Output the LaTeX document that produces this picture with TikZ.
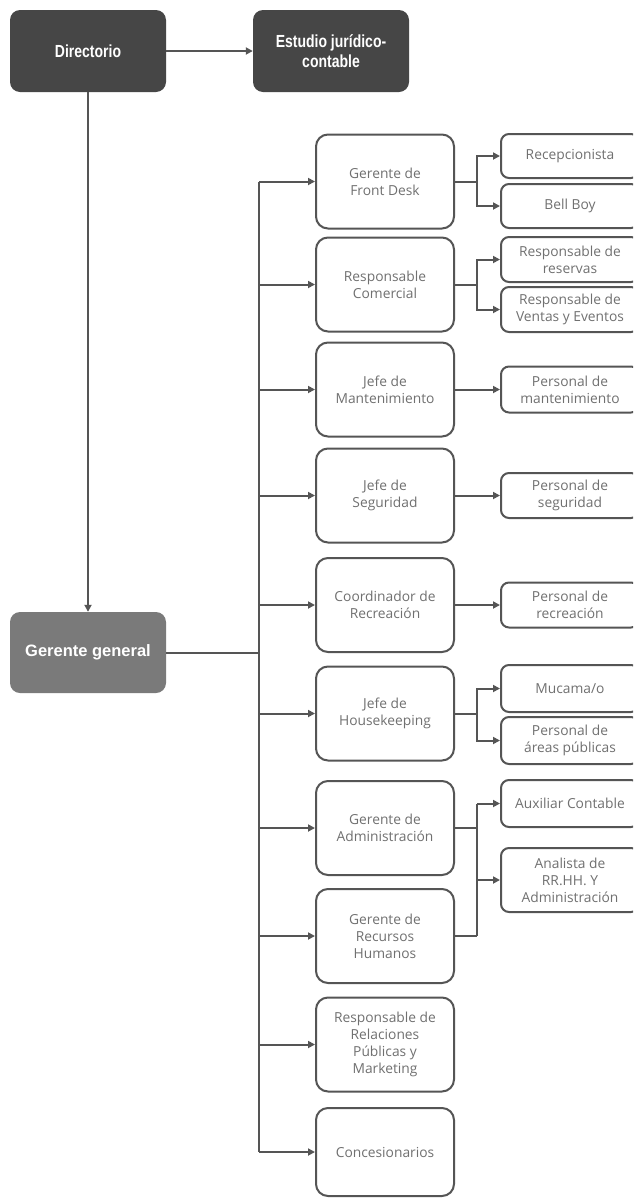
\documentclass[tikz,border=0pt]{standalone}
\usepackage{fontspec}
\setmainfont{Open Sans}
\newfontfamily\condbold{Liberation Sans}[FakeStretch=0.8]
\newfontfamily\titlefont{Liberation Sans}
\usetikzlibrary{arrows.meta}
\definecolor{darkbox}{HTML}{464646}
\definecolor{gerbox}{HTML}{7A7A7A}
\definecolor{linec}{HTML}{555555}
\definecolor{textc}{HTML}{707070}
\begin{document}
\begin{tikzpicture}[x=1pt,y=-1pt,
  topbox/.style={fill=darkbox, rounded corners=10pt, minimum width=156pt, minimum height=82pt,
    text=white, align=center, inner sep=0pt, font=\condbold\bfseries\fontsize{17.5}{20}\selectfont},
  gerbx/.style={fill=gerbox, rounded corners=10pt, minimum width=156pt, minimum height=81pt,
    text=white, align=center, inner sep=0pt, font=\titlefont\bfseries\fontsize{16.5}{20}\selectfont},
  midbx/.style={draw=linec, line width=2pt, fill=white, rounded corners=12pt, minimum width=138pt,
    minimum height=94pt, text=textc, align=center, inner sep=0pt, font=\fontsize{13.8}{17}\selectfont},
  subbx/.style={draw=linec, line width=2pt, fill=white, rounded corners=8pt, minimum width=138pt,
    text=textc, align=center, inner sep=0pt, font=\fontsize{13.8}{17}\selectfont},
  conn/.style={draw=linec, line width=2pt},
  arr/.style={conn, -{Triangle[length=7pt,width=7pt]}},
]
\useasboundingbox (0,0) rectangle (633,1200);
\clip (0,0) rectangle (633,1200);
\fill[white] (0,0) rectangle (633,1200);

% top level
\node[topbox] (dir) at (88,51) {Directorio};
\node[topbox] (est) at (331,51) {Estudio jurídico-\\contable};
\node[gerbx] (gg) at (88,652.5) {Gerente general};

% middle column
\node[midbx] (fd) at (385,181.5) {Gerente de\\Front Desk};
\node[midbx] (rc) at (385,284.5) {Responsable\\Comercial};
\node[midbx] (jm) at (385,389.5) {Jefe de\\Mantenimiento};
\node[midbx] (js) at (385,495.5) {Jefe de\\Seguridad};
\node[midbx] (cr) at (385,605) {Coordinador de\\Recreación};
\node[midbx] (jh) at (385,713.5) {Jefe de\\Housekeeping};
\node[midbx] (ga) at (385,828) {Gerente de\\Administración};
\node[midbx] (rh) at (385,936) {Gerente de\\Recursos\\Humanos};
\node[midbx] (rp) at (385,1044.5) {Responsable de\\Relaciones\\Públicas y\\Marketing};
\node[midbx, minimum height=88pt] (co) at (385,1152) {Concesionarios};

% right column
\node[subbx, minimum height=44pt] (rec) at (570,156) {Recepcionista};
\node[subbx, minimum height=44pt] (bb) at (570,206) {Bell Boy};
\node[subbx, minimum height=45pt] (res) at (570,259.5) {Responsable de\\reservas};
\node[subbx, minimum height=45pt] (ven) at (570,309.5) {Responsable de\\Ventas y Eventos};
\node[subbx, minimum height=46pt] (pm) at (570,389.5) {Personal de\\mantenimiento};
\node[subbx, minimum height=45pt] (ps) at (570,495.5) {Personal de\\seguridad};
\node[subbx, minimum height=45pt] (pr) at (570,605) {Personal de\\recreación};
\node[subbx, minimum height=47pt] (mu) at (570,688.5) {Mucama/o};
\node[subbx, minimum height=47pt] (pa) at (570,740.5) {Personal de\\áreas públicas};
\node[subbx, minimum height=47pt] (ac) at (570,803.5) {Auxiliar Contable};
\node[subbx, minimum height=64pt] (an) at (570,880) {Analista de\\RR.HH. Y\\Administración};

% helper coordinates
\coordinate (tx) at (259,0);
\coordinate (jx) at (477,0);

% connectors top
\draw[arr] (dir.east) -- (est.west);
\draw[arr] (dir.south) -- (gg.north);

% trunk
\draw[conn] (gg.east) -- (gg.east -| tx);
\draw[conn] (fd.west -| tx) -- (co.west -| tx);
\foreach \n in {fd,rc,jm,js,cr,jh,ga,rh,rp,co}
  \draw[arr] (\n.west -| tx) -- (\n.west);

% splits
\draw[arr] (fd.east) -- (fd.east -| jx) |- (rec.west);
\draw[arr] (fd.east) -- (fd.east -| jx) |- (bb.west);
\draw[arr] (rc.east) -- (rc.east -| jx) |- (res.west);
\draw[arr] (rc.east) -- (rc.east -| jx) |- (ven.west);
\draw[arr] (jm.east) -- (pm.west);
\draw[arr] (js.east) -- (ps.west);
\draw[arr] (cr.east) -- (pr.west);
\draw[arr] (jh.east) -- (jh.east -| jx) |- (mu.west);
\draw[arr] (jh.east) -- (jh.east -| jx) |- (pa.west);
\draw[conn] (ga.east) -- (ga.east -| jx);
\draw[conn] (rh.east) -- (rh.east -| jx);
\draw[conn] (ac.west -| jx) -- (rh.east -| jx);
\draw[arr] (ac.west -| jx) -- (ac.west);
\draw[arr] (an.west -| jx) -- (an.west);
\end{tikzpicture}
\end{document}
